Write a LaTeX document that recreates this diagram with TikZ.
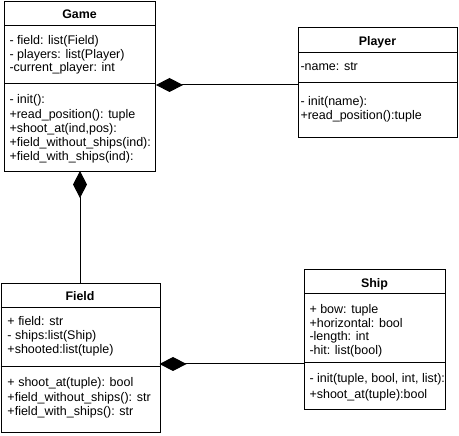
\documentclass[tikz,border=0pt]{standalone}
\usepackage{fontspec}
\setmainfont{Liberation Sans}
\usetikzlibrary{arrows.meta}
\begin{document}
\begin{tikzpicture}[x=1pt,y=-1pt,line width=1pt,
  classbox/.style={draw,line width=1pt,inner sep=0pt,anchor=north west},
  classtitle/.style={font=\bfseries\fontsize{12.4}{14}\selectfont,anchor=base,inner sep=0pt},
  member/.style={font=\fontsize{12.5}{14}\selectfont,anchor=base west,inner sep=0pt},
  comp/.style={draw,line width=1pt,{Diamond[length=27pt,width=14pt]}-}]
\useasboundingbox (0,0) rectangle (459,436);

% ---- Game ----
\node[classbox,minimum width=151pt,minimum height=170pt] (game) at (4,1) {};
\draw (4,26) -- (155,26);
\draw (4,84) -- (155,84);
\node[classtitle] (game-t) at (79.5,19) {Game};
\node[member] (game-a1) at (9,45) {- field: list(Field)};
\node[member] (game-a2) at (9,58.5) {- players: list(Player)};
\node[member] (game-a3) at (9,72) {-current\_player: int};
\node[member] (game-m1) at (9,104) {- init():};
\node[member] (game-m2) at (9,118.5) {+read\_position(): tuple};
\node[member] (game-m3) at (9,132.5) {+shoot\_at(ind,pos):};
\node[member] (game-m4) at (9,147) {+field\_without\_ships(ind):};
\node[member] (game-m5) at (9,161) {+field\_with\_ships(ind):};

% ---- Player ----
\node[classbox,minimum width=159pt,minimum height=110pt] (player) at (298,27) {};
\draw (298,53) -- (457,53);
\draw (298,83) -- (457,83);
\node[classtitle] (player-t) at (377.5,46) {Player};
\node[member] (player-a1) at (300,71) {-name: str};
\node[member] (player-m1) at (300,106) {- init(name):};
\node[member] (player-m2) at (300,119.5) {+read\_position():tuple};

% ---- Field ----
\node[classbox,minimum width=159pt,minimum height=149pt] (field) at (0.5,283) {};
\draw (0.5,308) -- (159.5,308);
\draw (0.5,367) -- (159.5,367);
\node[classtitle] (field-t) at (80,301) {Field};
\node[member] (field-a1) at (7,326) {+ field: str};
\node[member] (field-a2) at (7,340) {- ships:list(Ship)};
\node[member] (field-a3) at (7,354) {+shooted:list(tuple)};
\node[member] (field-m1) at (7,387) {+ shoot\_at(tuple): bool};
\node[member] (field-m2) at (7,402) {+field\_without\_ships(): str};
\node[member] (field-m3) at (7,416) {+field\_with\_ships(): str};

% ---- Ship ----
\node[classbox,minimum width=141pt,minimum height=140pt] (ship) at (304,269) {};
\draw (304,294) -- (445,294);
\draw (304,363) -- (445,363);
\node[classtitle] (ship-t) at (374.5,288) {Ship};
\node[member] (ship-a1) at (309,313) {+ bow: tuple};
\node[member] (ship-a2) at (309,327) {+horizontal: bool};
\node[member] (ship-a3) at (309,341) {-length: int};
\node[member] (ship-a4) at (309,355) {-hit: list(bool)};
\node[member] (ship-m1) at (309,382) {- init(tuple, bool, int, list):};
\node[member] (ship-m2) at (309,399) {+shoot\_at(tuple):bool};

% ---- compositions ----
\coordinate (game-e) at (game.east |- 0,85);
\coordinate (player-w) at (player.west |- 0,85);
\coordinate (game-s) at (80,171);
\coordinate (field-n) at (80,283);
\coordinate (field-e) at (159.5,364);
\coordinate (ship-w) at (304,364);
\draw[comp] (game-e) -- (player-w);
\draw[comp] (game-s) -- (field-n);
\draw[comp] (field-e) -- (ship-w);
\end{tikzpicture}
\end{document}
